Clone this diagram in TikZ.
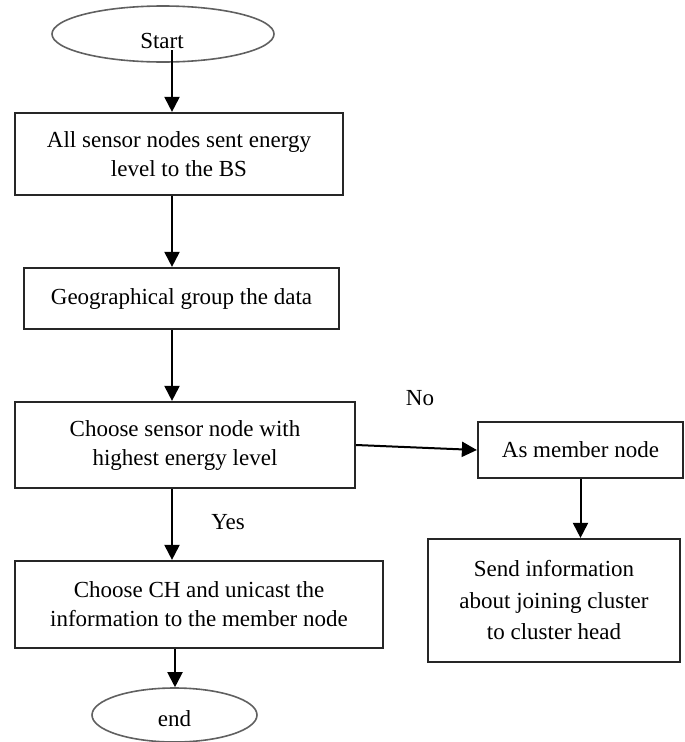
\documentclass[tikz,border=0pt]{standalone}
\usepackage{fontspec}
\setmainfont{Liberation Serif}
\usetikzlibrary{arrows.meta,shapes.geometric}
\begin{document}
\begin{tikzpicture}[x=1pt,y=-1pt,
 box/.style={draw=black!85,line width=2.2pt,rectangle,inner sep=0pt,align=center,font=\fontsize{23}{29}\selectfont},
 term/.style={draw=gray!75!black,line width=1.6pt,ellipse,inner sep=0pt},
 arr/.style={line width=2pt,draw=black,-{Triangle[length=15pt,width=15pt]}},
 lbl/.style={font=\fontsize{23}{29}\selectfont,inner sep=0pt}]
\useasboundingbox (0,0) rectangle (685,742);
\node[term,minimum width=222pt,minimum height=56pt] (start) at (163,34) {};
\node[lbl] (starttxt) at (162,41) {Start};
\node[box,minimum width=328pt,minimum height=82pt] (b1) at (179,154) {All sensor nodes sent energy\\level to the BS};
\node[box,minimum width=315pt,minimum height=61pt] (b2) at (181.5,298.5) {Geographical group the data};
\node[box,minimum width=340pt,minimum height=86pt] (b3) at (185,445) {Choose sensor node with\\highest energy level};
\node[box,minimum width=368pt,minimum height=87pt] (b4) at (199,604.5) {Choose CH and unicast the\\information to the member node};
\node[term,minimum width=165pt,minimum height=54pt] (end) at (174.5,715) {};
\node[lbl] (endtxt) at (174.5,719) {end};
\node[box,minimum width=205pt,minimum height=56pt] (mem) at (580.5,450) {As member node};
\node[box,minimum width=252pt,minimum height=123pt,font=\fontsize{23}{31.5}\selectfont] (send) at (554,600.5) {Send information\\about joining cluster\\to cluster head};
\node[lbl] (no) at (420,398) {No};
\node[lbl] (yes) at (228,522) {Yes};
\coordinate (s0) at (172,50);
\draw[arr] (s0) -- (s0 |- b1.north);
\draw[arr] (s0 |- b1.south) -- (s0 |- b2.north);
\draw[arr] (s0 |- b2.south) -- (s0 |- b3.north);
\draw[arr] (s0 |- b3.south) -- (s0 |- b4.north);
\coordinate (e0) at (175,648);
\draw[arr] (e0 |- b4.south) -- (end.north -| e0);
\draw[arr] (b3.east) -- (mem.west);
\draw[arr] (mem.south) -- (mem.south |- send.north);
\end{tikzpicture}
\end{document}
